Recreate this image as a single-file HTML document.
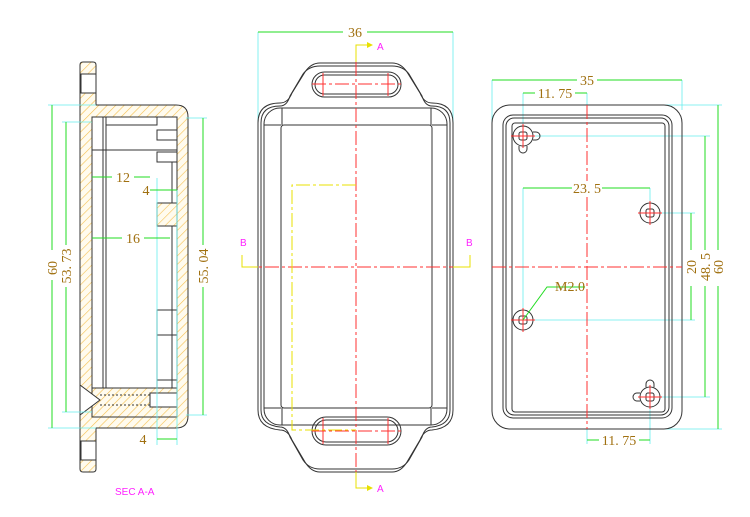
<!DOCTYPE html>
<html><head><meta charset="utf-8"><style>
html,body{margin:0;padding:0;background:#fff;}
svg{display:block;}
text{font-family:"Liberation Sans",sans-serif;}
.k{fill:none;stroke:#333;stroke-width:1;}
.g{stroke:#22dd22;stroke-width:1;fill:none;}
.c{stroke:#66eeee;stroke-width:0.8;fill:none;}
.r{stroke:#ff3030;stroke-width:1;fill:none;stroke-dasharray:14 3 3 3;}
.y{stroke:#e8e000;stroke-width:1;fill:none;}
.yd{stroke:#e8e000;stroke-width:1;fill:none;stroke-dasharray:14 3 3 3;}
.t{fill:#a07010;font-family:"Liberation Serif",serif;font-size:14px;}
.m{fill:#ff20ff;font-size:10px;}
</style></head><body>
<svg width="750" height="517" viewBox="0 0 750 517" xmlns="http://www.w3.org/2000/svg">
<defs>
<pattern id="h" width="6" height="6" patternUnits="userSpaceOnUse" patternTransform="rotate(45)">
<rect width="6" height="6" fill="#fffbee"/>
<line x1="0" y1="0" x2="0" y2="6" stroke="#f5c050" stroke-width="1.2"/>
</pattern>
</defs>

<!-- ===== LEFT SECTION A-A ===== -->
<path d="M83 62 H93 Q96 62 96 65 V105 H176 Q188 105 188 117 V416 Q188 428 176 428 H96 V469 Q96 472 93 472 H83 Q80 472 80 469 V65 Q80 62 83 62 Z" fill="url(#h)" stroke="#333"/>
<rect x="92" y="117" width="85" height="300" fill="#fff" stroke="#333"/>
<rect x="81" y="74" width="15" height="19" fill="#fff" stroke="#333"/>
<rect x="81" y="441" width="15" height="19" fill="#fff" stroke="#333"/>
<!-- inner details -->
<line x1="103" y1="117" x2="103" y2="402" class="k"/>
<line x1="106" y1="117" x2="106" y2="402" class="k"/>
<rect x="92" y="117" width="14" height="33" class="k"/>
<line x1="106" y1="150" x2="177" y2="150" class="k"/>
<path d="M106 150 V125 H157 V117" class="k"/>
<rect x="157" y="130" width="20" height="10" class="k"/>
<rect x="157" y="152" width="20" height="10" class="k"/>
<line x1="172" y1="162" x2="172" y2="402" class="k"/>
<rect x="157" y="203" width="20" height="23" fill="url(#h)" stroke="#333"/>
<rect x="157" y="310" width="20" height="25" class="k"/>
<line x1="157" y1="335" x2="157" y2="380" class="k"/>
<path d="M92 402 H106 V398 H157 V380 H177 V417" class="k"/>
<rect x="92" y="388" width="85" height="29" fill="url(#h)" stroke="#333"/>
<path d="M80 385 L100 400 L80 415 Z" fill="#fff" stroke="#333"/>
<line x1="100" y1="395" x2="175" y2="395" stroke="#333" stroke-dasharray="2 2"/>
<line x1="100" y1="405" x2="175" y2="405" stroke="#333" stroke-dasharray="2 2"/>
<rect x="150" y="393" width="27" height="14" fill="#fff" stroke="#333"/>
<!-- dims left -->
<path class="c" d="M48 105 H96 M62 122 H92 M186 118 H207 M186 415 H207 M48 428 H96 M62 412 H92 M157 178 V445 M177 190 V445"/>
<line x1="52" y1="105" x2="52" y2="428" class="g"/>
<line x1="66" y1="122" x2="66" y2="412" class="g"/>
<line x1="203" y1="118" x2="203" y2="415" class="g"/>
<rect x="44" y="250" width="16" height="30" fill="#fff"/>
<rect x="58" y="245" width="16" height="42" fill="#fff"/>
<rect x="195" y="245" width="16" height="42" fill="#fff"/>
<text class="t" transform="translate(57,268) rotate(-90)" text-anchor="middle">60</text>
<text class="t" transform="translate(71,266) rotate(-90)" text-anchor="middle">53. 73</text>
<text class="t" transform="translate(208,266) rotate(-90)" text-anchor="middle">55. 04</text>
<line x1="92" y1="177" x2="150" y2="177" class="g"/><rect x="112" y="170" width="22" height="14" fill="#fff"/>
<text class="t" x="123" y="182" text-anchor="middle">12</text>
<line x1="150" y1="190" x2="177" y2="190" class="g"/><text class="t" x="146" y="195" text-anchor="middle">4</text>
<line x1="92" y1="238" x2="170" y2="238" class="g"/><rect x="122" y="231" width="22" height="14" fill="#fff"/>
<text class="t" x="133" y="243" text-anchor="middle">16</text>
<line x1="157" y1="439" x2="177" y2="439" class="g"/><text class="t" x="143" y="444" text-anchor="middle">4</text>
<text class="m" x="115" y="495">SEC A-A</text>

<!-- ===== MIDDLE VIEW ===== -->
<path class="c" d="M258 32 V123 M453 32 V123"/>
<line x1="258" y1="32" x2="453" y2="32" class="g"/>
<rect x="343" y="24" width="24" height="15" fill="#fff"/>
<text class="t" x="355" y="37" text-anchor="middle">36</text>
<path d="M258 123 Q258 103 280 103 Q288 103 292 93 L305 72 Q311 63 320 63 H392 Q401 63 407 72 L420 93 Q424 103 432 103 Q453 103 453 123 V410 Q453 428 432 430 Q424 430 420 440 L407 462 Q401 472 392 472 H320 Q311 472 305 462 L292 440 Q288 430 280 430 Q258 428 258 410 Z" class="k"/>
<path d="M261 123 Q261 106 280 106 Q287 106 290 96 L303 74 Q309 66 320 66 H392 Q403 66 409 74 L422 96 Q425 106 432 106 Q450 106 450 123 V410 Q450 425 432 427 Q425 427 422 437 L409 460 Q403 469 392 469 H320 Q309 469 303 460 L290 437 Q287 427 280 427 Q261 425 261 410 Z" class="k"/>
<rect x="264" y="108" width="183" height="317" rx="16" class="k"/>
<rect x="281" y="125" width="151" height="283" rx="3" class="k"/>
<path class="k" d="M282 108 V125 M431 108 V125 M282 408 V425 M431 408 V425 M264 125 H281 M432 125 H447 M264 408 H281 M432 408 H447"/>
<rect x="312" y="72" width="89" height="25" rx="12.5" class="k"/>
<rect x="315" y="75" width="83" height="19" rx="9.5" class="k"/>
<rect x="312" y="417" width="89" height="28" rx="14" class="k"/>
<rect x="315" y="420" width="83" height="22" rx="11" class="k"/>
<path stroke="#ff3030" fill="none" d="M323 73 V96 M388 73 V96 M323 418 V444 M388 418 V444"/>
<line x1="312" y1="84" x2="401" y2="84" class="r"/>
<line x1="312" y1="431" x2="401" y2="431" class="r"/>
<line x1="356" y1="62" x2="356" y2="472" class="r"/>
<line x1="242" y1="267" x2="470" y2="267" class="r"/>
<path class="yd" d="M356 185 H292 V430 H356"/>
<path class="y" d="M356 62 V45 H370 M356 472 V488 H370 M242 255 V267 H258 M470 255 V267 H453"/>
<path d="M367 42 L373 45 L367 48 Z M367 485 L373 488 L367 491 Z" fill="#e8e000"/>
<text class="m" x="377" y="50">A</text>
<text class="m" x="377" y="492">A</text>
<text class="m" x="240" y="246">B</text>
<text class="m" x="466" y="246">B</text>

<!-- ===== RIGHT VIEW ===== -->
<path class="c" d="M492 80 V123 M682 80 V110 M523 93 V125 M587 93 V105 M523 188 V320 M650 188 V205 M587 429 V444 M650 407 V444 M535 136 H710 M660 213 H695 M535 320 H695 M660 397 H710 M665 105 H722 M665 429 H722"/>
<rect x="492" y="105" width="190" height="324" rx="18" class="k"/>
<rect x="503" y="115" width="169" height="303" rx="10" class="k"/>
<rect x="506" y="118" width="163" height="297" rx="8" class="k"/>
<rect x="512" y="123" width="153" height="289" rx="3" class="k"/>
<line x1="587" y1="105" x2="587" y2="429" class="r"/>
<line x1="492" y1="267" x2="682" y2="267" class="r"/>
<g class="k">
<circle cx="523" cy="136" r="10" fill="#fff"/><rect x="519" y="132" width="8" height="8" rx="2"/>
<circle cx="650" cy="213" r="10" fill="#fff"/><rect x="646" y="209" width="8" height="8" rx="2"/>
<circle cx="523" cy="320" r="10" fill="#fff"/><rect x="519" y="316" width="8" height="8" rx="2"/>
<circle cx="650" cy="397" r="10" fill="#fff"/><rect x="646" y="393" width="8" height="8" rx="2"/>
<path d="M533 132 h3 a4 4 0 0 1 0 8 h-3 M519 146 v3 a4 4 0 0 0 8 0 v-3 M640 393 h-3 a4 4 0 0 0 0 8 h3 M646 387 v-3 a4 4 0 0 1 8 0 v3"/>
</g>
<path stroke="#ff3030" fill="none" d="M511 136 H535 M523 124 V148 M638 213 H662 M650 201 V225 M511 320 H535 M523 308 V332 M638 397 H662 M650 385 V409"/>
<line x1="492" y1="80" x2="682" y2="80" class="g"/><rect x="577" y="72" width="20" height="15" fill="#fff"/>
<text class="t" x="587" y="85" text-anchor="middle">35</text>
<line x1="523" y1="93" x2="587" y2="93" class="g"/><rect x="535" y="86" width="40" height="14" fill="#fff"/>
<text class="t" x="555" y="98" text-anchor="middle">11. 75</text>
<line x1="523" y1="188" x2="650" y2="188" class="g"/><rect x="572" y="181" width="30" height="14" fill="#fff"/>
<text class="t" x="587" y="193" text-anchor="middle">23. 5</text>
<line x1="587" y1="440" x2="650" y2="440" class="g"/><rect x="599" y="433" width="40" height="14" fill="#fff"/>
<text class="t" x="619" y="445" text-anchor="middle">11. 75</text>
<line x1="691" y1="213" x2="691" y2="320" class="g"/>
<line x1="705" y1="136" x2="705" y2="397" class="g"/>
<line x1="718" y1="105" x2="718" y2="429" class="g"/>
<rect x="684" y="250" width="40" height="36" fill="#fff"/>
<text class="t" transform="translate(696,267) rotate(-90)" text-anchor="middle">20</text>
<text class="t" transform="translate(710,267) rotate(-90)" text-anchor="middle">48. 5</text>
<text class="t" transform="translate(723,267) rotate(-90)" text-anchor="middle">60</text>
<path class="g" d="M523 320 L547 287 H585"/>
<text class="t" x="555" y="291" font-family="Liberation Sans" font-size="13">M2.0</text>
</svg>
</body></html>
